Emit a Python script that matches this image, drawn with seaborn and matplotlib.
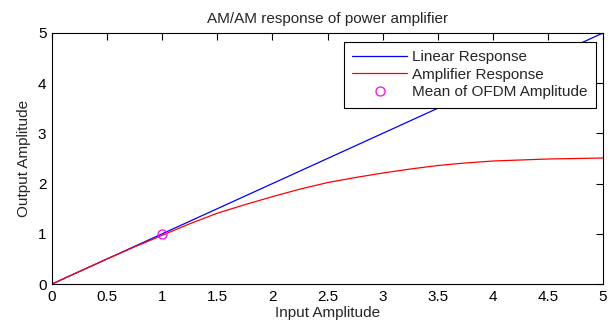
import numpy as np
import pandas as pd
import matplotlib
matplotlib.use("Agg")
import matplotlib.pyplot as plt
import seaborn as sns

x_in = [0, 0.25, 0.5, 0.75, 1.0, 1.25, 1.5, 1.75, 2.0, 2.25, 2.5, 2.75, 3.0,
        3.25, 3.5, 3.75, 4.0, 4.25, 4.5, 4.75, 5.0]
linear_out = [0, 0.25, 0.5, 0.75, 1.0, 1.25, 1.5, 1.75, 2.0, 2.25, 2.5, 2.75, 3.0,
              3.25, 3.5, 3.75, 4.0, 4.25, 4.5, 4.75, 5.0]
amp_out = [0, 0.25, 0.50, 0.74, 0.97, 1.20, 1.41, 1.58, 1.74, 1.89, 2.02, 2.12, 2.21,
           2.29, 2.36, 2.41, 2.45, 2.47, 2.49, 2.50, 2.51]
mean_x = [1.0]
mean_y = [1.0]

sns.set_style("white")
plt.rcParams['font.family'] = ['Liberation Sans', 'DejaVu Sans']
FS = 11

fig = plt.figure(figsize=(6.13, 3.29), dpi=100)
ax = fig.add_axes([52/613, 1-284/329, (603-52)/613, (284-33)/329])

df_lin = pd.DataFrame({"x": x_in, "y": linear_out})
df_amp = pd.DataFrame({"x": x_in, "y": amp_out})
sns.lineplot(data=df_lin, x="x", y="y", ax=ax, color=(0, 0, 1), lw=0.9,
             label="Linear Response")
sns.lineplot(data=df_amp, x="x", y="y", ax=ax, color=(1, 0, 0), lw=0.9,
             label="Amplifier Response")
ax.plot(mean_x, mean_y, 'o', mfc='none', mec=(1, 0, 1), ms=6.5, mew=0.9,
        label="Mean of OFDM Amplitude", zorder=5)

ax.set_xlim(0, 5)
ax.set_ylim(0, 5)
ax.set_xticks(np.arange(0, 5.01, 0.5))
ax.set_xticklabels(["0", "0.5", "1", "1.5", "2", "2.5", "3", "3.5", "4", "4.5", "5"])
ax.set_yticks([0, 1, 2, 3, 4, 5])
ax.tick_params(direction='in', length=5, width=0.8, top=True, right=True,
               labelsize=FS, colors='black', pad=4)
for s in ax.spines.values():
    s.set_color('black')
    s.set_linewidth(0.8)

ax.set_title("AM/AM response of power amplifier", fontsize=FS, pad=7)
ax.set_xlabel("Input Amplitude", fontsize=FS, labelpad=1.5)
ax.set_ylabel("Output Amplitude", fontsize=FS, labelpad=5)

leg = ax.legend(loc='upper right', bbox_to_anchor=(0.987, 0.964), fontsize=FS,
                frameon=True, fancybox=False, framealpha=1, edgecolor='black',
                borderpad=0.55, labelspacing=0.22, handlelength=3.6,
                handletextpad=0.3, borderaxespad=0)
leg.get_frame().set_linewidth(0.8)
leg.set_zorder(10)

fig.savefig("out.png", dpi=100)
